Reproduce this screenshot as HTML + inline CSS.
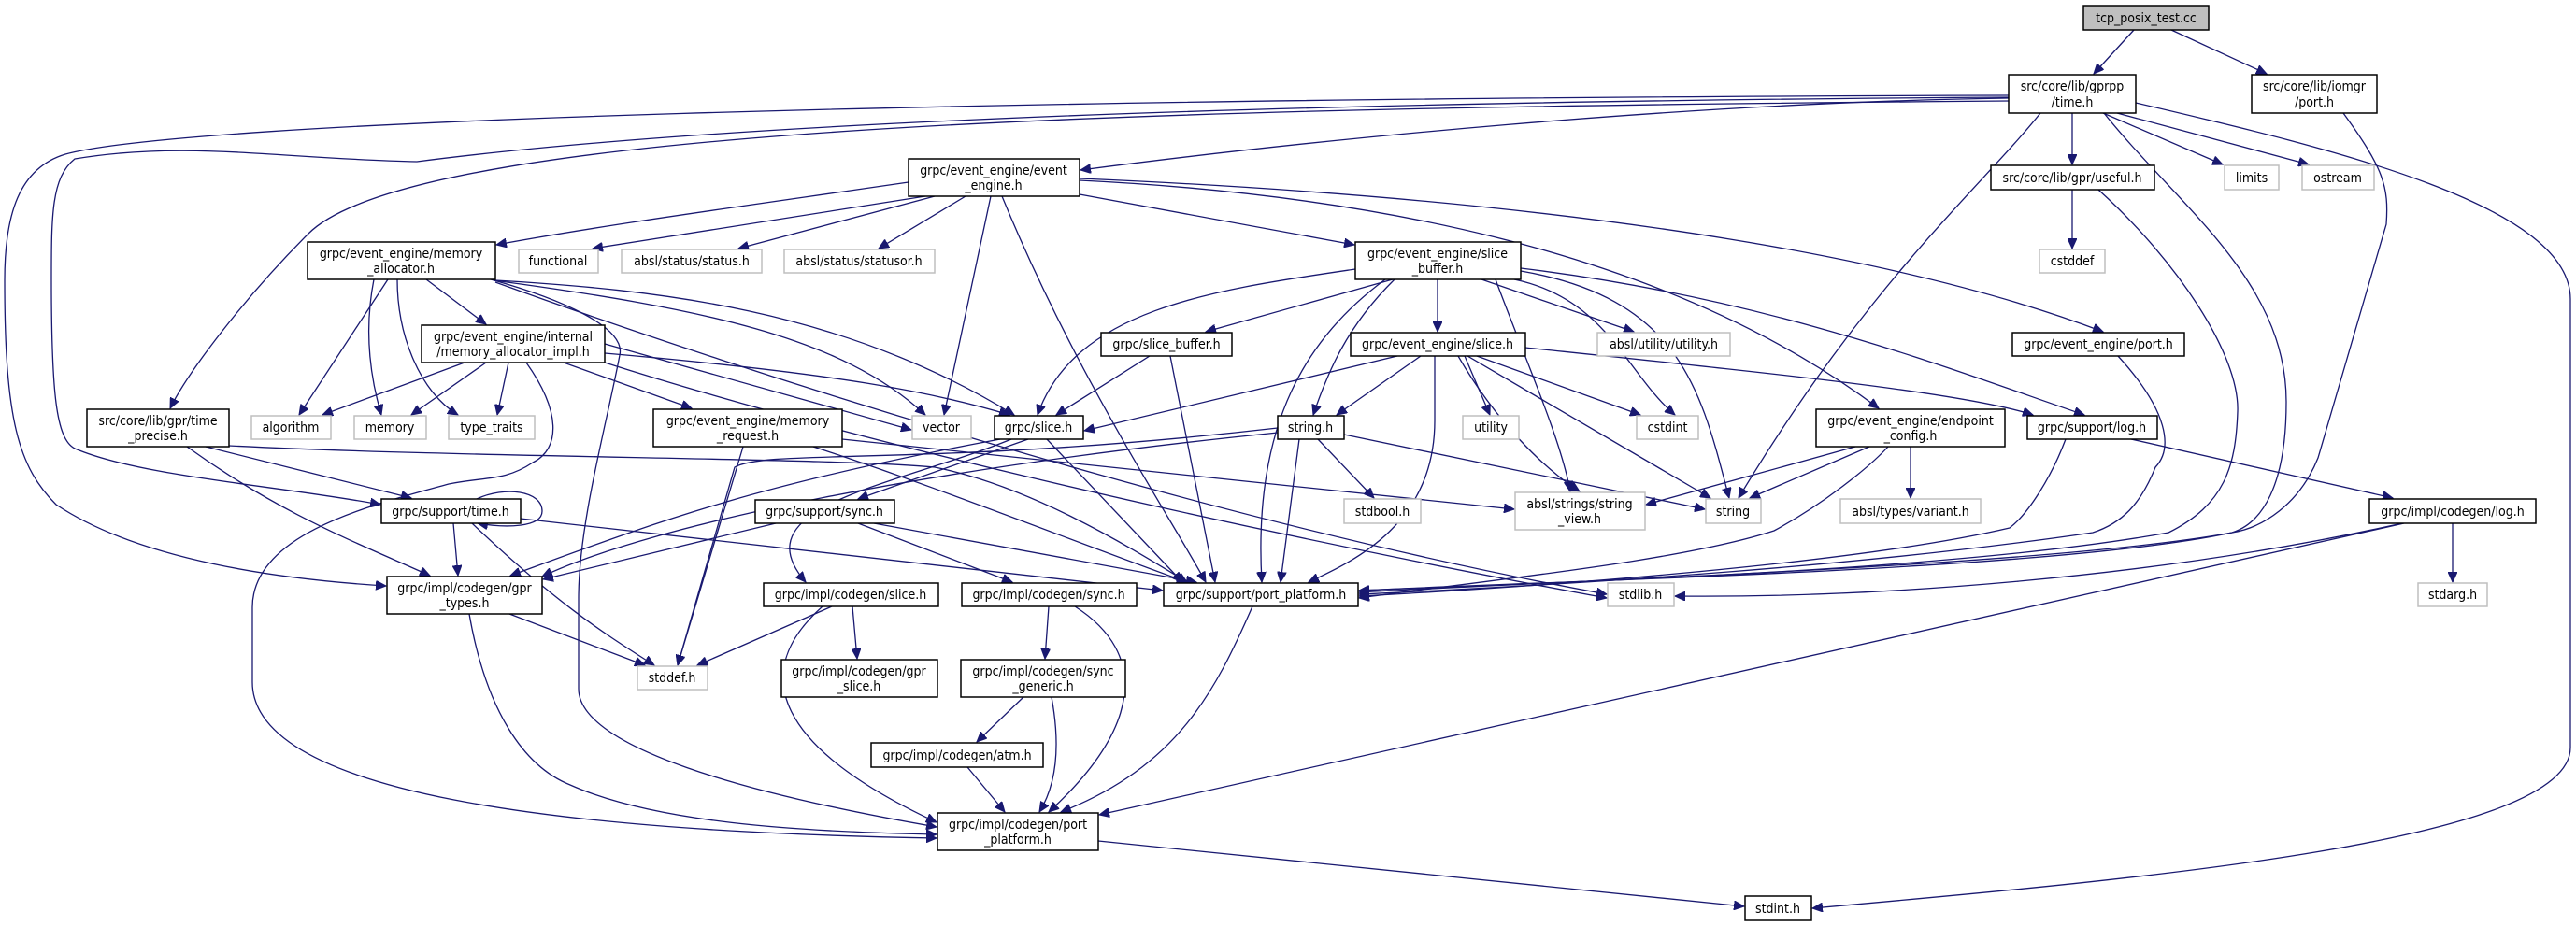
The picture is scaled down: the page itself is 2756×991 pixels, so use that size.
<!DOCTYPE html>
<html><head><meta charset="utf-8"><style>
html,body{margin:0;padding:0;background:#fff;}
svg{display:block;}
text{font-family:"DejaVu Sans Condensed","DejaVu Sans","Liberation Sans",sans-serif;font-stretch:condensed;font-size:14px;fill:#000;}
.n{fill:#fff;stroke:#000;stroke-width:1.5;}
.g{fill:#fff;stroke:#bfbfbf;stroke-width:1.5;}
.e{fill:none;stroke:#191970;stroke-width:1.3;marker-end:url(#ah);}
</style></head><body>
<svg width="2756" height="991" viewBox="0 0 2756 991" xmlns="http://www.w3.org/2000/svg">
<defs><marker id="ah" markerWidth="12" markerHeight="10" refX="11" refY="5" orient="auto" markerUnits="userSpaceOnUse"><path d="M0,0 L11,5 L0,10 z" fill="#191970" stroke="#191970"/></marker></defs>
<g>
<path class="e" d="M2283,32 L2240,79"/>
<path class="e" d="M2323,32 L2425,79"/>
<path class="e" d="M2217,121 L2217,176"/>
<path class="e" d="M2250,121 L2378,176"/>
<path class="e" d="M2265,121 L2470,176"/>
<path class="e" d="M2149,105 C1800,110 1400,150 1156,182"/>
<path class="e" d="M2149,108 C1300,115 450,130 330,250 C260,320 200,400 182,437"/>
<path class="e" d="M2149,104 C1200,110 700,140 446,173 C300,170 200,150 80,170 C55,190 55,230 55,300 C55,420 60,470 80,480 C150,510 300,520 407,540"/>
<path class="e" d="M2149,102 C1000,105 200,130 70,165 C20,180 5,230 5,300 C5,450 20,500 60,540 C150,600 300,620 413,627"/>
<path class="e" d="M2285,110 C2500,160 2750,220 2750,320 L2750,800 C2750,900 2300,940 1939,972"/>
<path class="e" d="M2183,121 C2120,200 2000,300 1860,533"/>
<path class="e" d="M2251,121 C2330,220 2446,300 2446,430 C2446,520 2420,560 2388,570 C2200,610 1700,620 1454,632"/>
<path class="e" d="M2245,203 C2330,280 2396,380 2394,440 C2392,500 2380,540 2320,570 C2100,610 1700,622 1454,632"/>
<path class="e" d="M2507,121 C2550,180 2556,200 2553,240 L2480,490 C2460,540 2420,565 2388,570 C2200,605 1700,620 1454,634"/>
<path class="e" d="M2266,381 C2320,440 2325,480 2306,500 C2290,540 2270,560 2239,570 C2000,605 1700,625 1454,636"/>
<path class="e" d="M2210,470 C2195,510 2170,550 2150,565 C2000,600 1700,625 1454,638"/>
<path class="e" d="M2020,478 C2000,500 1950,540 1898,568 C1800,600 1600,620 1454,640"/>
<path class="e" d="M1985,478 L1761,540"/>
<path class="e" d="M2000,478 L1872,533"/>
<path class="e" d="M2044,478 L2044,533"/>
<path class="e" d="M2280,470 L2560,533"/>
<path class="e" d="M2624,560 L2624,623"/>
<path class="e" d="M2570,560 C2300,620 2000,640 1792,638"/>
<path class="e" d="M2572,560 L1176,872"/>
<path class="e" d="M1175,900 L1866,970"/>
<path class="e" d="M1340,649 C1300,740 1260,820 1135,869"/>
<path class="e" d="M1035,821 L1075,869"/>
<path class="e" d="M1095,746 L1045,794"/>
<path class="e" d="M1125,746 C1135,800 1130,840 1112,869"/>
<path class="e" d="M1122,649 L1118,705"/>
<path class="e" d="M1150,649 C1230,700 1220,780 1122,869"/>
<path class="e" d="M912,649 L917,705"/>
<path class="e" d="M890,649 L746,712"/>
<path class="e" d="M880,649 C800,720 830,800 1002,880"/>
<path class="e" d="M545,657 L690,712"/>
<path class="e" d="M502,657 C520,760 560,820 610,840 C700,880 850,890 1002,893"/>
<path class="e" d="M563,388 C600,440 600,480 570,495 C540,515 520,510 480,518 C400,540 270,570 270,650 L270,730 C270,850 600,890 1002,897"/>
<path class="e" d="M525,299 C600,320 670,350 663,380 C650,450 619,560 619,640 L619,737 C619,800 800,850 1002,885"/>
<path class="e" d="M415,299 L320,444"/>
<path class="e" d="M400,299 C390,350 395,400 408,444"/>
<path class="e" d="M425,299 C425,360 450,420 490,444"/>
<path class="e" d="M456,299 L520,347"/>
<path class="e" d="M528,300 C750,330 900,360 990,444"/>
<path class="e" d="M530,300 C700,310 900,330 1085,444"/>
<path class="e" d="M530,302 C800,400 1300,560 1719,636"/>
<path class="e" d="M972,195 C800,220 650,240 531,262"/>
<path class="e" d="M990,210 L634,266"/>
<path class="e" d="M1000,210 L790,266"/>
<path class="e" d="M1033,210 L940,266"/>
<path class="e" d="M1060,210 L1010,444"/>
<path class="e" d="M1072,210 C1150,400 1250,550 1290,623"/>
<path class="e" d="M1155,208 L1449,262"/>
<path class="e" d="M1155,191 C1600,210 2000,260 2250,355"/>
<path class="e" d="M1155,193 C1500,210 1800,280 2010,437"/>
<path class="e" d="M1490,299 L1290,355"/>
<path class="e" d="M1538,299 L1538,355"/>
<path class="e" d="M1585,299 L1748,355"/>
<path class="e" d="M1450,288 C1300,310 1150,330 1110,444"/>
<path class="e" d="M1492,299 C1440,350 1420,400 1405,444"/>
<path class="e" d="M1482,299 C1400,360 1340,450 1350,623"/>
<path class="e" d="M1620,299 C1720,320 1740,400 1792,444"/>
<path class="e" d="M1627,290 C1800,320 1820,420 1850,533"/>
<path class="e" d="M1600,299 C1630,380 1670,470 1680,526"/>
<path class="e" d="M1627,287 C1900,320 2100,400 2230,444"/>
<path class="e" d="M1495,381 L1160,461"/>
<path class="e" d="M1520,381 L1430,444"/>
<path class="e" d="M1567,381 L1594,444"/>
<path class="e" d="M1580,381 L1755,444"/>
<path class="e" d="M1632,372 C1900,400 2100,420 2175,444"/>
<path class="e" d="M1560,381 C1600,450 1650,500 1690,526"/>
<path class="e" d="M1570,381 L1830,533"/>
<path class="e" d="M1535,381 L1535,450 C1535,560 1450,600 1400,623"/>
<path class="e" d="M1230,381 L1130,444"/>
<path class="e" d="M1252,381 L1300,623"/>
<path class="e" d="M1100,470 L918,534"/>
<path class="e" d="M1082,470 C960,520 790,540 862,623"/>
<path class="e" d="M1120,470 L1265,623"/>
<path class="e" d="M1070,470 C800,520 700,560 546,616"/>
<path class="e" d="M1410,470 L1470,533"/>
<path class="e" d="M1438,465 L1824,545"/>
<path class="e" d="M1367,458 C1000,500 820,480 786,500 L725,712"/>
<path class="e" d="M1367,463 C1000,500 700,560 580,617"/>
<path class="e" d="M1390,470 L1370,623"/>
<path class="e" d="M510,534 C540,520 580,525 580,547 C580,565 540,565 511,560"/>
<path class="e" d="M485,560 L490,616"/>
<path class="e" d="M505,560 C600,650 650,680 700,712"/>
<path class="e" d="M557,555 L1244,632"/>
<path class="e" d="M830,560 L581,620"/>
<path class="e" d="M918,560 L1083,623"/>
<path class="e" d="M935,560 L1280,623"/>
<path class="e" d="M220,478 L440,533"/>
<path class="e" d="M200,478 C300,550 380,580 460,616"/>
<path class="e" d="M245,477 C500,490 900,490 1000,500 C1100,520 1200,580 1270,623"/>
<path class="e" d="M795,478 L725,712"/>
<path class="e" d="M870,478 C1000,520 1150,580 1270,623"/>
<path class="e" d="M901,470 L1620,545"/>
<path class="e" d="M497,388 L345,444"/>
<path class="e" d="M520,388 L440,444"/>
<path class="e" d="M544,388 L532,444"/>
<path class="e" d="M603,388 L740,437"/>
<path class="e" d="M647,378 C900,400 1000,420 1080,444"/>
<path class="e" d="M647,368 L975,460"/>
<path class="e" d="M647,388 C1000,500 1500,600 1719,640"/>
<path class="e" d="M2217,203 L2217,266"/>
</g>
<g text-anchor="middle">
<rect x="2229" y="6" width="134" height="26" fill="#bfbfbf" stroke="#000" stroke-width="1.5"/><text x="2296" y="24">tcp_posix_test.cc</text>
<rect class="n" x="2149" y="80" width="136" height="41"/><text x="2217" y="97">src/core/lib/gprpp</text><text x="2217" y="114">/time.h</text>
<rect class="n" x="2409" y="80" width="134" height="41"/><text x="2476" y="97">src/core/lib/iomgr</text><text x="2476" y="114">/port.h</text>
<rect class="n" x="2130" y="177" width="175" height="26"/><text x="2217" y="195">src/core/lib/gpr/useful.h</text>
<rect class="g" x="2380" y="177" width="58" height="26"/><text x="2409" y="195">limits</text>
<rect class="g" x="2463" y="177" width="77" height="26"/><text x="2501" y="195">ostream</text>
<rect class="g" x="2182" y="267" width="70" height="25"/><text x="2217" y="284">cstddef</text>
<rect class="n" x="972" y="170" width="183" height="40"/><text x="1063" y="187">grpc/event_engine/event</text><text x="1063" y="203">_engine.h</text>
<rect class="n" x="329" y="259" width="201" height="40"/><text x="429" y="276">grpc/event_engine/memory</text><text x="429" y="292">_allocator.h</text>
<rect class="g" x="555" y="267" width="85" height="25"/><text x="597" y="284">functional</text>
<rect class="g" x="665" y="267" width="150" height="25"/><text x="740" y="284">absl/status/status.h</text>
<rect class="g" x="839" y="267" width="161" height="25"/><text x="919" y="284">absl/status/statusor.h</text>
<rect class="n" x="1450" y="259" width="177" height="40"/><text x="1538" y="276">grpc/event_engine/slice</text><text x="1538" y="292">_buffer.h</text>
<rect class="n" x="2153" y="356" width="184" height="25"/><text x="2245" y="373">grpc/event_engine/port.h</text>
<rect class="n" x="1178" y="356" width="140" height="25"/><text x="1248" y="373">grpc/slice_buffer.h</text>
<rect class="n" x="1445" y="356" width="187" height="25"/><text x="1538" y="373">grpc/event_engine/slice.h</text>
<rect class="g" x="1709" y="356" width="142" height="25"/><text x="1780" y="373">absl/utility/utility.h</text>
<rect class="n" x="451" y="348" width="196" height="40"/><text x="549" y="365">grpc/event_engine/internal</text><text x="549" y="381">/memory_allocator_impl.h</text>
<rect class="n" x="93" y="438" width="152" height="40"/><text x="169" y="455">src/core/lib/gpr/time</text><text x="169" y="471">_precise.h</text>
<rect class="g" x="269" y="445" width="85" height="25"/><text x="311" y="462">algorithm</text>
<rect class="g" x="379" y="445" width="77" height="25"/><text x="417" y="462">memory</text>
<rect class="g" x="480" y="445" width="92" height="25"/><text x="526" y="462">type_traits</text>
<rect class="n" x="699" y="438" width="202" height="40"/><text x="800" y="455">grpc/event_engine/memory</text><text x="800" y="471">_request.h</text>
<rect class="g" x="976" y="445" width="63" height="25"/><text x="1007" y="462">vector</text>
<rect class="n" x="1064" y="445" width="95" height="25"/><text x="1111" y="462">grpc/slice.h</text>
<rect class="n" x="1367" y="445" width="71" height="25"/><text x="1402" y="462">string.h</text>
<rect class="g" x="1565" y="445" width="60" height="25"/><text x="1595" y="462">utility</text>
<rect class="g" x="1751" y="445" width="66" height="25"/><text x="1784" y="462">cstdint</text>
<rect class="n" x="1943" y="438" width="202" height="40"/><text x="2044" y="455">grpc/event_engine/endpoint</text><text x="2044" y="471">_config.h</text>
<rect class="n" x="2169" y="445" width="139" height="25"/><text x="2238" y="462">grpc/support/log.h</text>
<rect class="n" x="408" y="534" width="149" height="26"/><text x="482" y="552">grpc/support/time.h</text>
<rect class="n" x="808" y="535" width="149" height="25"/><text x="882" y="552">grpc/support/sync.h</text>
<rect class="g" x="1438" y="534" width="82" height="26"/><text x="1479" y="552">stdbool.h</text>
<rect class="g" x="1621" y="527" width="139" height="40"/><text x="1690" y="544">absl/strings/string</text><text x="1690" y="560">_view.h</text>
<rect class="g" x="1825" y="534" width="59" height="26"/><text x="1854" y="552">string</text>
<rect class="g" x="1969" y="534" width="150" height="26"/><text x="2044" y="552">absl/types/variant.h</text>
<rect class="n" x="2535" y="534" width="178" height="26"/><text x="2624" y="552">grpc/impl/codegen/log.h</text>
<rect class="n" x="414" y="617" width="166" height="40"/><text x="497" y="634">grpc/impl/codegen/gpr</text><text x="497" y="650">_types.h</text>
<rect class="n" x="817" y="624" width="187" height="25"/><text x="910" y="641">grpc/impl/codegen/slice.h</text>
<rect class="n" x="1029" y="624" width="187" height="25"/><text x="1122" y="641">grpc/impl/codegen/sync.h</text>
<rect class="n" x="1245" y="624" width="208" height="25"/><text x="1349" y="641">grpc/support/port_platform.h</text>
<rect class="g" x="1720" y="624" width="71" height="25"/><text x="1755" y="641">stdlib.h</text>
<rect class="g" x="2587" y="624" width="74" height="25"/><text x="2624" y="641">stdarg.h</text>
<rect class="g" x="682" y="713" width="75" height="25"/><text x="719" y="730">stddef.h</text>
<rect class="n" x="836" y="706" width="167" height="40"/><text x="919" y="723">grpc/impl/codegen/gpr</text><text x="919" y="739">_slice.h</text>
<rect class="n" x="1028" y="706" width="176" height="40"/><text x="1116" y="723">grpc/impl/codegen/sync</text><text x="1116" y="739">_generic.h</text>
<rect class="n" x="932" y="795" width="184" height="26"/><text x="1024" y="813">grpc/impl/codegen/atm.h</text>
<rect class="n" x="1003" y="870" width="172" height="40"/><text x="1089" y="887">grpc/impl/codegen/port</text><text x="1089" y="903">_platform.h</text>
<rect class="n" x="1867" y="959" width="71" height="26"/><text x="1902" y="977">stdint.h</text>
</g>
</svg>
</body></html>
